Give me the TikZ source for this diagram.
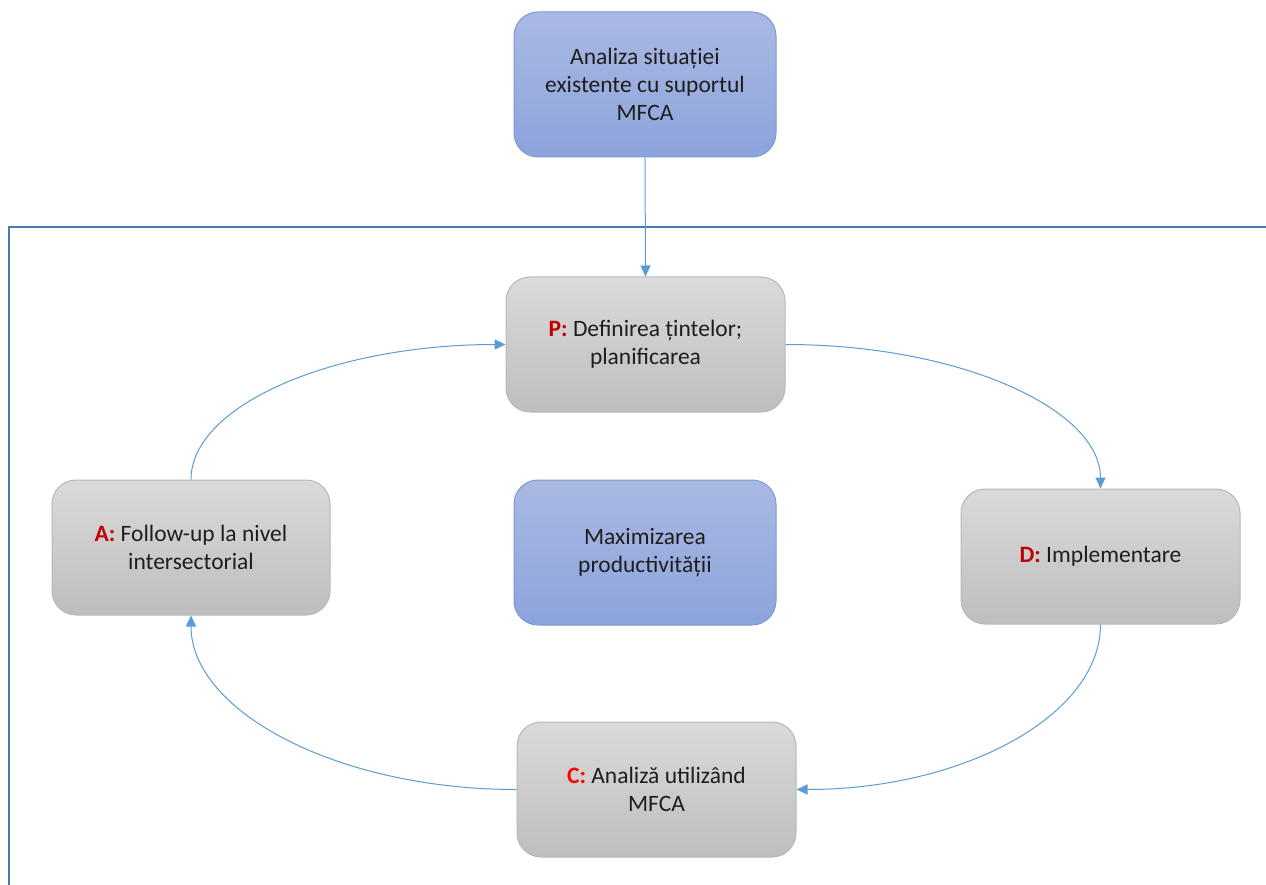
\documentclass[tikz,border=0pt]{standalone}
\usepackage{fontspec}
\setmainfont{Carlito}
\usetikzlibrary{arrows.meta,calc}
\definecolor{bluetop}{HTML}{A9B9E3}
\definecolor{bluebot}{HTML}{8CA3DB}
\definecolor{blueedge}{HTML}{7A9AD8}
\definecolor{graytop}{HTML}{DADADA}
\definecolor{graybot}{HTML}{BEBEBE}
\definecolor{grayedge}{HTML}{B8B8B8}
\definecolor{linkblue}{HTML}{5B9BD5}
\definecolor{framecol}{HTML}{4A78B0}
\definecolor{darkred}{HTML}{C00000}
\definecolor{txt}{HTML}{1E1E1E}
\tikzset{
  box/.style={draw, line width=1pt, rounded corners=24pt, align=center,
    inner sep=0pt, text=txt,
    font=\fontsize{23.5}{28}\selectfont},
  bluebox/.style={box, draw=blueedge, top color=bluetop, bottom color=bluebot,
    minimum width=262pt, minimum height=145pt},
  graybox/.style={box, draw=grayedge, top color=graytop, bottom color=graybot,
    minimum width=279pt, minimum height=135pt},
  link/.style={draw=linkblue, line width=1pt,
    -{Triangle[length=11pt,width=10pt]}, color=linkblue},
}
\newcommand{\tag}[2]{\textbf{\textcolor{#1}{#2}}}
\begin{document}
\begin{tikzpicture}[x=1pt,y=-1pt]
\useasboundingbox (0,0) rectangle (1266,885);

% open frame around the cycle
\draw[framecol, line width=2pt] (9,886) -- (9,227) -- (1267,227);

% boxes
\node[bluebox] (top) at (645,84.5) {Analiza situației\\existente cu suportul\\MFCA};
\node[bluebox] (mid) at (645,552.5) {Maximizarea\\productivității};
\node[graybox] (P) at (645.5,344.5) {\tag{darkred}{P:} Definirea țintelor;\\planificarea};
\node[graybox] (D) at (1100.5,556.5) {\tag{darkred}{D:} Implementare};
\node[graybox] (C) at (656.5,789.5) {\tag{red}{C:} Analiză utilizând\\MFCA};
\node[graybox, minimum width=278pt] (A) at (191,547.5) {\tag{darkred}{A:} Follow-up la nivel\\intersectorial};

% connectors
\draw[link] (top.south) -- (P.north);
\draw[link] (P.east) .. controls ($(P.east)+(175,0)$) and ($(D.north)+(0,-79)$) .. (D.north);
\draw[link] (D.south) .. controls ($(D.south)+(0,91)$) and ($(C.east)+(167,0)$) .. (C.east);
\draw[link] (C.west) .. controls ($(C.west)+(-179,0)$) and ($(A.south)+(0,96)$) .. (A.south);
\draw[link] (A.north) .. controls ($(A.north)+(0,-74)$) and ($(P.west)+(-173,0)$) .. (P.west);
\end{tikzpicture}
\end{document}
